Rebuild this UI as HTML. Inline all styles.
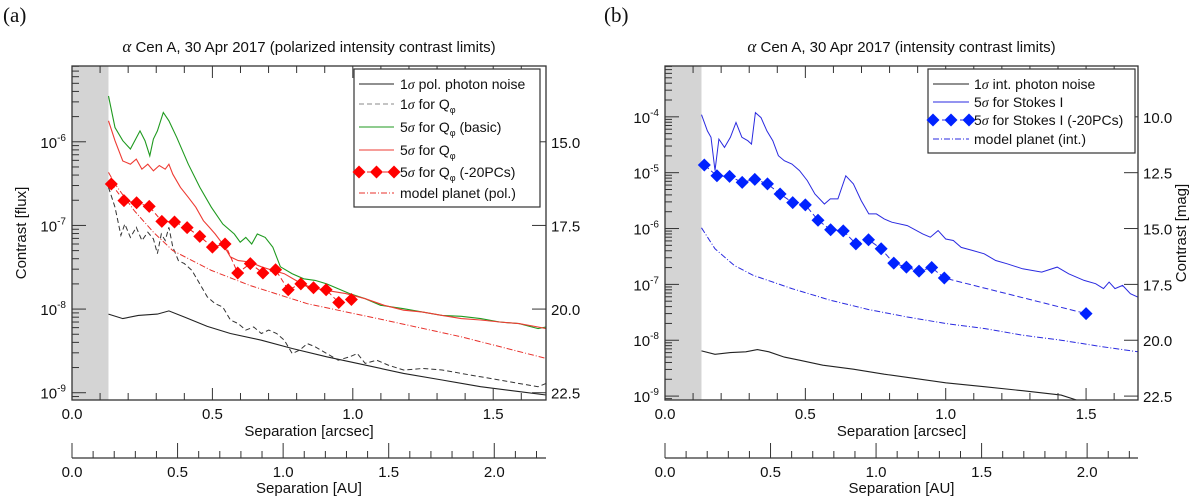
<!DOCTYPE html>
<html><head><meta charset="utf-8">
<style>
html,body{margin:0;padding:0;background:#fff;}
svg{display:block;font-family:"Liberation Sans",sans-serif;}
</style></head>
<body>
<svg id="chart" width="1200" height="496" viewBox="0 0 1200 496" xmlns="http://www.w3.org/2000/svg">
</svg>
<script>
// ---------------- Panel (a) data ----------------
const aPhotonX = [0.130,0.181,0.236,0.304,0.345,0.400,0.482,0.564,0.674,0.784,0.907,1.044,1.181,1.318,1.455,1.592,1.688];
const aPhotonY = [8.7e-9,7.7e-9,8.4e-9,8.7e-9,9.5e-9,8.05e-9,6.2e-9,5.1e-9,4.25e-9,3.38e-9,2.69e-9,2.14e-9,1.70e-9,1.42e-9,1.18e-9,1.03e-9,9.4e-10];
const aQphiX = [0.130,0.153,0.174,0.188,0.208,0.229,0.249,0.270,0.290,0.304,0.318,0.332,0.345,0.359,0.379,0.400,0.427,0.455,0.482,0.510,0.537,0.564,0.592,0.619,0.647,0.674,0.701,0.729,0.756,0.784,0.811,0.838,0.866,0.907,0.948,0.989,1.016,1.044,1.085,1.126,1.181,1.249,1.318,1.386,1.455,1.523,1.592,1.660,1.688];
const aQphiY = [2.86e-7,1.65e-7,7.6e-8,1.04e-7,7.2e-8,9.5e-8,6.6e-8,8.3e-8,6.9e-8,4.6e-8,7.9e-8,6.6e-8,9.5e-8,5.5e-8,3.8e-8,3.5e-8,2.9e-8,2.0e-8,1.4e-8,1.16e-8,1.06e-8,7.4e-9,6.7e-9,5.6e-9,6.1e-9,5.1e-9,5.6e-9,5.1e-9,4.25e-9,2.94e-9,3.23e-9,3.87e-9,3.54e-9,2.94e-9,2.45e-9,2.69e-9,2.94e-9,2.24e-9,2.45e-9,2.14e-9,1.87e-9,1.95e-9,1.87e-9,1.70e-9,1.55e-9,1.42e-9,1.29e-9,1.18e-9,1.29e-9];
const aBasicX = [0.130,0.153,0.181,0.208,0.242,0.260,0.277,0.290,0.304,0.325,0.345,0.373,0.414,0.455,0.496,0.537,0.578,0.599,0.619,0.640,0.660,0.688,0.715,0.742,0.784,0.825,0.866,0.907,0.948,0.989,1.044,1.099,1.181,1.249,1.318,1.386,1.455,1.523,1.592,1.660,1.688];
const aBasicY = [3.53e-6,1.48e-6,1.03e-6,8.2e-7,1.35e-6,1.03e-6,6.8e-7,1.08e-6,1.35e-6,2.24e-6,1.78e-6,1.13e-6,5.4e-7,2.86e-7,1.65e-7,1.04e-7,7.9e-8,6.3e-8,7.2e-8,6.0e-8,7.9e-8,7.2e-8,5.5e-8,3.2e-8,2.65e-8,2.3e-8,2.2e-8,2.0e-8,1.75e-8,1.53e-8,1.33e-8,1.11e-8,1.01e-8,9.2e-9,8.4e-9,8.2e-9,7.7e-9,7.0e-9,6.7e-9,5.85e-9,6.1e-9];
const aRedX = [0.130,0.153,0.181,0.208,0.229,0.249,0.270,0.290,0.311,0.332,0.345,0.359,0.386,0.414,0.441,0.468,0.489,0.510,0.537,0.564,0.592,0.633,0.674,0.715,0.756,0.797,0.838,0.907,0.975,1.044,1.112,1.181,1.249,1.318,1.386,1.455,1.523,1.592,1.660,1.688];
const aRedY = [1.78e-6,1.03e-6,5.9e-7,5.4e-7,6.2e-7,4.7e-7,5.4e-7,4.5e-7,5.2e-7,4.7e-7,5.4e-7,4.1e-7,2.86e-7,2.17e-7,1.65e-7,1.14e-7,9.5e-8,7.9e-8,6.0e-8,4.2e-8,3.8e-8,3.65e-8,3.2e-8,2.9e-8,2.65e-8,2.2e-8,1.84e-8,1.67e-8,1.53e-8,1.33e-8,1.11e-8,9.7e-9,9.2e-9,8.4e-9,7.7e-9,7.4e-9,7.0e-9,6.7e-9,6.1e-9,5.85e-9];
const aPcX = [0.14,0.185,0.23,0.275,0.32,0.365,0.41,0.455,0.50,0.545,0.59,0.635,0.68,0.725,0.77,0.815,0.86,0.905,0.95,0.995];
const aPcY = [3.13e-7,1.98e-7,1.87e-7,1.69e-7,1.12e-7,1.10e-7,9.4e-8,7.4e-8,5.5e-8,6.0e-8,2.7e-8,3.5e-8,2.7e-8,2.95e-8,1.7e-8,2.0e-8,1.8e-8,1.7e-8,1.2e-8,1.3e-8];
const aModelX = [0.130,0.153,0.222,0.290,0.359,0.496,0.633,0.838,1.112,1.386,1.688];
const aModelY = [4.3e-7,3.13e-7,1.5e-7,8.3e-8,5.0e-8,2.9e-8,1.92e-8,1.16e-8,7.4e-9,4.66e-9,2.57e-9];
const aMagTicks = ["15.0","17.5","20.0","22.5"];
// ---------------- Panel (b) data ----------------
const bPhotonX = [0.130,0.178,0.233,0.288,0.329,0.370,0.425,0.479,0.562,0.671,0.781,0.890,1.0,1.137,1.274,1.411,1.466];
const bPhotonY = [6.45e-9,5.6e-9,6.0e-9,6.2e-9,6.8e-9,6.2e-9,5.0e-9,4.4e-9,3.58e-9,3.03e-9,2.47e-9,2.07e-9,1.73e-9,1.47e-9,1.25e-9,1.04e-9,8.5e-10];
const bStokesX = [0.130,0.151,0.164,0.178,0.192,0.212,0.233,0.253,0.274,0.295,0.308,0.322,0.342,0.363,0.384,0.404,0.425,0.452,0.479,0.507,0.534,0.568,0.589,0.616,0.644,0.671,0.699,0.726,0.753,0.781,0.808,0.863,0.918,0.945,0.973,1.0,1.027,1.055,1.096,1.137,1.178,1.219,1.274,1.342,1.397,1.438,1.493,1.534,1.562,1.582,1.603,1.630,1.658,1.685];
const bStokesY = [1.09e-4,5.6e-5,4.3e-5,1.09e-5,4.0e-5,2.83e-5,4.3e-5,7.9e-5,4.3e-5,3.73e-5,3.25e-5,1.19e-4,9.7e-5,5.6e-5,3.73e-5,2.01e-5,1.64e-5,1.43e-5,1.09e-5,7.2e-6,4.16e-6,2.75e-6,3.39e-6,3.39e-6,8.8e-6,6.3e-6,3.16e-6,1.83e-6,1.83e-6,1.49e-6,1.30e-6,1.13e-6,8.0e-7,7.0e-7,9.2e-7,6.5e-7,6.1e-7,4.6e-7,4.05e-7,3.53e-7,2.68e-7,2.34e-7,1.9e-7,1.66e-7,2.04e-7,1.55e-7,1.18e-7,1.03e-7,8.4e-8,1.10e-7,8.4e-8,9.6e-8,6.8e-8,5.9e-8];
const bPcX = [0.14,0.185,0.23,0.275,0.32,0.365,0.41,0.455,0.50,0.545,0.59,0.635,0.68,0.725,0.77,0.815,0.86,0.905,0.95,0.995,1.5];
const bPcY = [1.37e-5,8.8e-6,8.6e-6,6.7e-6,7.6e-6,6.3e-6,4.16e-6,2.91e-6,2.65e-6,1.41e-6,9.5e-7,9.1e-7,5.3e-7,6.3e-7,4.34e-7,2.4e-7,2.04e-7,1.73e-7,2.01e-7,1.30e-7,3.0e-8];
const bModelX = [0.130,0.178,0.247,0.315,0.452,0.589,0.726,0.863,1.0,1.137,1.274,1.411,1.548,1.685];
const bModelY = [1.03e-6,4.34e-7,2.18e-7,1.45e-7,8.4e-8,5.2e-8,3.53e-8,2.61e-8,1.99e-8,1.62e-8,1.23e-8,1.0e-8,7.8e-9,6.2e-9];
const bMagTicks = ["10.0","12.5","15.0","17.5","20.0","22.5"];
// shared axis ticks
const xTickLabels = ["0.0","0.5","1.0","1.5"];
const auTickLabels = ["0.0","0.5","1.0","1.5","2.0"];

const NS = "http://www.w3.org/2000/svg";
const svg = document.getElementById("chart");
function mk(tag, attrs, parent){
  const e = document.createElementNS(NS, tag);
  for (const k in attrs) e.setAttribute(k, attrs[k]);
  (parent||svg).appendChild(e);
  return e;
}

function drawPanel(P){
  const g = mk("g", {});
  
  
  const L=P.left, R=P.right, T=P.top, B=P.bottom;
  const xs = v => L + v / P.xmax * (R - L);
  const ys = v => T + (P.topLog - Math.log10(v)) / (P.topLog - P.botLog) * (B - T);
  const clipId = "clip-" + P.id;
  const cp = mk("clipPath", {id: clipId}, g);
  mk("rect", {x:L, y:T, width:R-L, height:B-T}, cp);

  // shaded inner region
  const sh = mk("rect", {x:xs(0), y:T, width:xs(0.13)-xs(0), height:B-T, fill:"#d4d4d4"}, g);
  
  

  const plot = mk("g", {"clip-path":"url(#"+clipId+")"}, g);
  function line(xArr, yArr, style, name){
    const pts = xArr.map((x,i)=>xs(x).toFixed(1)+","+ys(yArr[i]).toFixed(1)).join(" ");
    const pl = mk("polyline", Object.assign({points:pts, fill:"none"}, style), plot);
    
    
  }
  P.series.forEach(s => {
    line(s.x, s.y, s.style, s.name);
    if (s.diamond) {
      s.x.forEach((x,i)=>{
        const cx = xs(x), cy = ys(s.y[i]);
        const d = mk("polygon", {points:`${cx},${cy-6.5} ${cx+6.5},${cy} ${cx},${cy+6.5} ${cx-6.5},${cy}`, fill:s.diamond}, plot);
        
        
      });
    }
  });

  // frame
  const fr = mk("rect", {x:L, y:T, width:R-L, height:B-T, fill:"none", stroke:"#333", "stroke-width":1.3}, g);
  
  

  // x ticks (bottom and top)
  for (let i=0; i*0.1 <= P.xmax+1e-9; i++){
    const v = i*0.1, X = xs(v), major = (i%5===0), len = major?12:7;
    mk("line", {x1:X, y1:B, x2:X, y2:B-len, stroke:"#333"}, g);
    mk("line", {x1:X, y1:T, x2:X, y2:T+len, stroke:"#333"}, g);
  }
  xTickLabels.forEach((lab, i) => {
    const t = mk("text", {x:xs(parseFloat(lab)), y:B+19, "font-size":15, "text-anchor":"middle", fill:"#111"}, g);
    t.textContent = lab;
    
    
  });
  const xt = mk("text", {x:(L+R)/2, y:B+36, "font-size":15, "text-anchor":"middle", fill:"#111"}, g);
  xt.textContent = "Separation [arcsec]";
  
  

  // y log ticks
  for (let e = Math.floor(P.botLog); e <= Math.ceil(P.topLog); e++){
    for (let m=1; m<10; m++){
      const v = m*Math.pow(10,e);
      const lv = Math.log10(v);
      if (lv < P.botLog || lv > P.topLog) continue;
      const Y = ys(v), len = m===1?14:7;
      mk("line", {x1:L, y1:Y, x2:L+len, y2:Y, stroke:"#333"}, g);
      if (m===1){
        const t = mk("text", {x:L-6, y:Y+6, "font-size":15, "text-anchor":"end", fill:"#111"}, g);
        
        
        const a = mk("tspan", {}, t); a.textContent = "10";
        const b = mk("tspan", {"font-size":10, dy:-7}, t); b.textContent = String(e);
      }
    }
  }
  const yt = mk("text", {x:0, y:0, transform:`translate(${P.yTitleX},${(T+B)/2}) rotate(-90)`, "font-size":15, "text-anchor":"middle", fill:"#111"}, g);
  yt.textContent = "Contrast [flux]";
  
  

  // right magnitude axis
  P.mags.forEach(lab => {
    const mag = parseFloat(lab);
    const Y = ys(Math.pow(10, -mag/2.5));
    mk("line", {x1:R, y1:Y, x2:R-14, y2:Y, stroke:"#333"}, g);
    const t = mk("text", {x:R+5, y:Y+6, "font-size":15, fill:"#111"}, g);
    t.textContent = lab;
    
    
  });
  if (P.magTitle){
    const mt = mk("text", {x:0, y:0, transform:`translate(1186,${(T+B)/2}) rotate(-90)`, "font-size":15, "text-anchor":"middle", fill:"#111"}, g);
    mt.textContent = "Contrast [mag]";
    
    
  }

  // AU axis
  const AUY = 458, auMax = P.xmax*1.33;
  const xa = v => L + v/auMax*(R-L);
  mk("line", {x1:L, y1:AUY, x2:R, y2:AUY, stroke:"#333", "stroke-width":1.2}, g);
  for (let i=0; i*0.1 <= auMax+1e-9; i++){
    const X = xa(i*0.1), len = (i%5===0)?15:7;
    mk("line", {x1:X, y1:AUY, x2:X, y2:AUY-len, stroke:"#333"}, g);
  }
  auTickLabels.forEach(lab => {
    const t = mk("text", {x:xa(parseFloat(lab)), y:AUY+19, "font-size":15, "text-anchor":"middle", fill:"#111"}, g);
    t.textContent = lab;
    
    
  });
  const at = mk("text", {x:(L+R)/2, y:AUY+35, "font-size":15, "text-anchor":"middle", fill:"#111"}, g);
  at.textContent = "Separation [AU]";
  
  

  // title
  const tt = mk("text", {x:(L+R)/2, y:52, "font-size":15, "text-anchor":"middle", fill:"#111"}, g);
  
  
  const al = mk("tspan", {"font-family":"Liberation Serif, serif", "font-style":"italic", "font-size":17}, tt); al.textContent = "α";
  const rest = mk("tspan", {}, tt); rest.textContent = " " + P.title;
  const pl = mk("text", {x:P.labelX, y:22, "font-size":21, "font-family":"Liberation Serif, serif", fill:"#111"}, g);
  pl.textContent = P.panelLabel;
  
  

  // legend
  const lg = mk("g", {}, g);
  
  
  mk("rect", {x:P.leg.x, y:P.leg.y, width:P.leg.w, height:P.leg.h, fill:"#fff", stroke:"#333", "stroke-width":1.2}, lg);
  P.leg.items.forEach((it, i) => {
    const ent = mk("g", {}, lg);
    
    
    const y = P.leg.rows[i];
    mk("line", Object.assign({x1:P.leg.lx1, y1:y, x2:P.leg.lx2, y2:y}, it.style), ent);
    if (it.diamond){
      [P.leg.lx1, (P.leg.lx1+P.leg.lx2)/2, P.leg.lx2].forEach(cx=>{
        mk("polygon", {points:`${cx},${y-6.5} ${cx+6.5},${y} ${cx},${y+6.5} ${cx-6.5},${y}`, fill:it.diamond}, ent);
      });
    }
    const t = mk("text", {x:P.leg.tx, y:y+5, "font-size":14, fill:"#111"}, ent);
    it.parts.forEach(p => {
      const sp = mk("tspan", p.sub?{"font-size":9, dy:4}:(p.after?{dy:-4}:{}), t);
      if (p.it){ sp.setAttribute("font-family","Liberation Serif, serif"); sp.setAttribute("font-style","italic"); }
      sp.textContent = p.t;
    });
  });
}

const sig = [{t:"1"},{t:"σ",it:1}];
drawPanel({
  id:"a", left:72, right:546, top:66, bottom:400, xmax:1.688, topLog:-5.094, botLog:-9.087,
  yTitleX:26, mags:aMagTicks, magTitle:false, title:"Cen A, 30 Apr 2017 (polarized intensity contrast limits)",
  panelLabel:"(a)", labelX:3,
  series:[
    {x:aPhotonX, y:aPhotonY, style:{stroke:"#222","stroke-width":1.1}, name:"pol-photon-noise-line"},
    {x:aQphiX, y:aQphiY, style:{stroke:"#333","stroke-width":1,"stroke-dasharray":"5,3"}, name:"one-sigma-qphi-line"},
    {x:aModelX, y:aModelY, style:{stroke:"#e8312b","stroke-width":1,"stroke-dasharray":"6,2,1,2"}, name:"model-planet-pol-line"},
    {x:aBasicX, y:aBasicY, style:{stroke:"#1f9a1f","stroke-width":1.1}, name:"five-sigma-qphi-basic-line"},
    {x:aRedX, y:aRedY, style:{stroke:"#ee3b33","stroke-width":1.1}, name:"five-sigma-qphi-line"},
    {x:aPcX, y:aPcY, style:{stroke:"#ee2222","stroke-width":1,"stroke-dasharray":"5,3"}, name:"five-sigma-qphi-20pcs-line", diamond:"#ff0000"}
  ],
  leg:{x:354, y:69, w:186, h:138, lx1:359, lx2:394, tx:400, rows:[84,104,127,150,172,193],
    items:[
      {style:{stroke:"#222"}, parts:[...sig,{t:" pol. photon noise"}]},
      {style:{stroke:"#888","stroke-dasharray":"5,3"}, parts:[...sig,{t:" for Q"},{t:"φ",sub:1}]},
      {style:{stroke:"#1f9a1f"}, parts:[{t:"5"},{t:"σ",it:1},{t:" for Q"},{t:"φ",sub:1},{t:" (basic)",after:1}]},
      {style:{stroke:"#ee3b33"}, parts:[{t:"5"},{t:"σ",it:1},{t:" for Q"},{t:"φ",sub:1}]},
      {style:{stroke:"#ee2222","stroke-dasharray":"5,3"}, diamond:"#ff0000", parts:[{t:"5"},{t:"σ",it:1},{t:" for Q"},{t:"φ",sub:1},{t:" (-20PCs)",after:1}]},
      {style:{stroke:"#e8312b","stroke-dasharray":"6,2,1,2"}, parts:[{t:"model planet (pol.)"}]}
    ]}
});
drawPanel({
  id:"b", left:665, right:1138, top:66, bottom:400, xmax:1.685, topLog:-3.09, botLog:-9.07,
  yTitleX:-100, mags:bMagTicks, magTitle:true, title:"Cen A, 30 Apr 2017 (intensity contrast limits)",
  panelLabel:"(b)", labelX:604,
  series:[
    {x:bPhotonX, y:bPhotonY, style:{stroke:"#222","stroke-width":1.1}, name:"int-photon-noise-line"},
    {x:bModelX, y:bModelY, style:{stroke:"#2a2ae0","stroke-width":1,"stroke-dasharray":"6,2,1,2"}, name:"model-planet-int-line"},
    {x:bStokesX, y:bStokesY, style:{stroke:"#2a2ae0","stroke-width":1}, name:"five-sigma-stokes-i-line"},
    {x:bPcX, y:bPcY, style:{stroke:"#2a2ae0","stroke-width":1,"stroke-dasharray":"6,3"}, name:"five-sigma-stokes-i-20pcs-line", diamond:"#0022ff"}
  ],
  leg:{x:928, y:69, w:207, h:84, lx1:933, lx2:969, tx:974, rows:[84,102,120,139],
    items:[
      {style:{stroke:"#222"}, parts:[...sig,{t:" int. photon noise"}]},
      {style:{stroke:"#2a2ae0"}, parts:[{t:"5"},{t:"σ",it:1},{t:" for Stokes I"}]},
      {style:{stroke:"#2a2ae0","stroke-dasharray":"6,3"}, diamond:"#0022ff", parts:[{t:"5"},{t:"σ",it:1},{t:" for Stokes I (-20PCs)"}]},
      {style:{stroke:"#2a2ae0","stroke-dasharray":"6,2,1,2"}, parts:[{t:"model planet (int.)"}]}
    ]}
});
</script>
</body></html>
